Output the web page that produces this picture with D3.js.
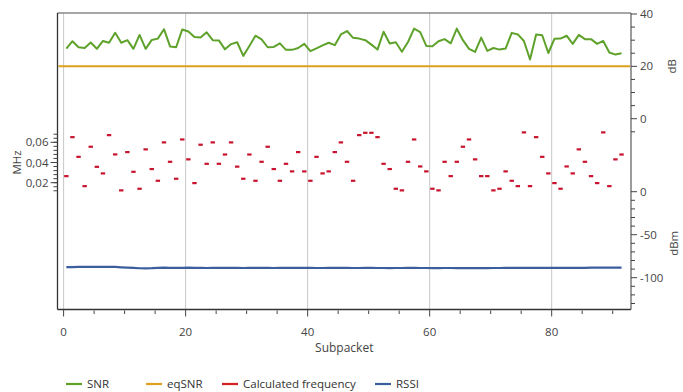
<!DOCTYPE html>
<html><head><meta charset="utf-8">
<script src="https://cdn.jsdelivr.net/npm/d3@7"></script>
<style>
html,body{margin:0;padding:0;background:#fff;}
svg{display:block;font-family:"Open Sans","Noto Sans",sans-serif;}
</style></head>
<body><svg id="c" width="683" height="392"></svg>
<script>
// ---- data ----
const snr = [26.8,29.6,27.3,27.0,29.1,26.7,29.7,29.0,32.8,29.0,30.0,26.7,32.0,26.7,30.1,30.6,34.2,27.6,27.3,34.1,
33.3,31.2,31.0,33.0,30.0,29.9,26.5,28.5,29.2,24.0,27.8,31.7,30.3,27.3,27.4,28.8,26.3,26.3,27.0,28.6,
25.8,26.9,28.0,29.0,28.1,32.2,33.5,30.9,30.6,30.0,28.3,26.4,33.2,28.7,29.2,25.6,29.3,34.4,33.1,27.8,
27.7,29.6,30.4,28.8,34.4,30.0,26.7,25.5,31.0,25.9,27.0,26.4,26.8,32.8,32.2,29.7,22.6,32.2,31.9,25.1,
30.5,30.6,31.7,28.6,32.0,30.4,30.4,28.6,29.7,25.3,24.5,25.0];
const eqSnr = 20;
const freq = [0.0266,0.0652,0.0457,0.0167,0.0557,0.0358,0.0293,0.0672,0.0481,0.0125,0.0504,0.0309,0.0141,0.0531,0.0336,0.0220,0.0600,0.0408,0.0240,0.0629,
0.0432,0.0197,0.0577,0.0388,0.0600,0.0388,0.0480,0.0600,0.0360,0.0240,0.0480,0.0220,0.0408,0.0557,0.0336,0.0220,0.0388,0.0313,0.0504,0.0313,
0.0220,0.0457,0.0293,0.0313,0.0504,0.0600,0.0408,0.0220,0.0672,0.0695,0.0695,0.0652,0.0388,0.0336,0.0141,0.0125,0.0408,0.0629,0.0362,0.0313,
0.0141,0.0125,0.0408,0.0266,0.0408,0.0557,0.0629,0.0432,0.0266,0.0266,0.0125,0.0141,0.0313,0.0220,0.0167,0.0699,0.0167,0.0652,0.0457,0.0293,
0.0197,0.0141,0.0362,0.0293,0.0531,0.0408,0.0266,0.0197,0.0699,0.0167,0.0432,0.0480];
const rssi = [-87.6,-87.6,-87.5,-87.5,-87.4,-87.4,-87.4,-87.3,-87.5,-87.9,-88.3,-88.6,-89.0,-89.1,-88.9,-88.5,-88.4,-88.5,-88.6,-88.5,
-88.4,-88.5,-88.6,-88.7,-88.6,-88.5,-88.5,-88.6,-88.6,-88.7,-88.6,-88.5,-88.5,-88.6,-88.7,-88.6,-88.6,-88.5,-88.5,-88.6,
-88.6,-88.7,-88.7,-88.6,-88.6,-88.5,-88.6,-88.7,-88.7,-88.6,-88.6,-88.7,-88.7,-88.8,-88.7,-88.7,-88.6,-88.6,-88.7,-88.7,
-88.8,-88.8,-88.7,-88.7,-88.8,-88.8,-88.8,-88.9,-88.8,-88.8,-88.7,-88.7,-88.6,-88.6,-88.6,-88.5,-88.5,-88.5,-88.5,-88.6,
-88.6,-88.6,-88.5,-88.5,-88.5,-88.5,-88.4,-88.4,-88.4,-88.4,-88.4,-88.4];
const xTicks = [0,20,40,60,80];
const dbTicks = [0,20,40];
const dbmTicks = [0,-50,-100];
const mhzTicks = [0.02,0.04,0.06];
const mhzLabels = ["0,02","0,04","0,06"];
const series = [
  {name:"SNR", color:"#5ea22c"},
  {name:"eqSNR", color:"#dba11f"},
  {name:"Calculated frequency", color:"#d42020"},
  {name:"RSSI", color:"#3b5e9e"}
];

// ---- layout ----
const L = 57.5, R = 631, T = 13, B = 309.5;
const svg = d3.select("#c");
const idx = snr.map((d,i)=>i + 0.45);

const x = d3.scaleLinear().domain([-1, 93]).range([L, R]);
const yDb = d3.scaleLinear().domain([0, 40]).range([118.7, 14]);
const yMhz = d3.scaleLinear().domain([0.02, 0.06]).range([182.7, 142.3]);
const yDbm = d3.scaleLinear().domain([-100, 0]).range([277.7, 191.7]);

// gridlines
svg.append("g").selectAll("line").data(xTicks).join("line")
  .attr("x1", d=>x(d)).attr("x2", d=>x(d)).attr("y1", T).attr("y2", B)
  .attr("stroke", "#c8c8c8").attr("stroke-width", 1);

// frame
svg.append("line").attr("x1", L).attr("x2", R).attr("y1", T).attr("y2", T)
  .attr("stroke", "#888").attr("stroke-width", 1.5);

// eqSNR
svg.append("line").attr("x1", L+1).attr("x2", R-1).attr("y1", yDb(eqSnr)).attr("y2", yDb(eqSnr))
  .attr("stroke", series[1].color).attr("stroke-width", 2);

// SNR
svg.append("path").datum(snr)
  .attr("d", d3.line().x((d,i)=>x(idx[i])).y(d=>yDb(d)))
  .attr("fill","none").attr("stroke", series[0].color).attr("stroke-width", 2).attr("stroke-linejoin","round");

// RSSI
svg.append("path").datum(rssi)
  .attr("d", d3.line().x((d,i)=>x(idx[i])).y(d=>yDbm(d)))
  .attr("fill","none").attr("stroke", series[3].color).attr("stroke-width", 2.2);

// freq marks
svg.append("g").selectAll("rect").data(freq).join("rect")
  .attr("x", (d,i)=>x(idx[i]) - 2.2).attr("y", d=>yMhz(d) - 1)
  .attr("width", 4.4).attr("height", 2.2).attr("fill", "#c8142e");

// x axis
const xAxis = svg.append("g").attr("transform", `translate(0,${B})`);
xAxis.append("line").attr("x1", L).attr("x2", R).attr("stroke", "#333").attr("stroke-width", 1.3);
xAxis.selectAll("line.minor").data(d3.range(5, 95, 5).filter(v=>v%20!==0)).join("line").attr("class","minor")
  .attr("x1", d=>x(d)).attr("x2", d=>x(d)).attr("y1", 1).attr("y2", 4.5).attr("stroke","#444");
xAxis.selectAll("line.major").data(xTicks).join("line").attr("class","major")
  .attr("x1", d=>x(d)).attr("x2", d=>x(d)).attr("y1", 0).attr("y2", 7).attr("stroke","#444");
xAxis.selectAll("text").data(xTicks).join("text")
  .attr("x", d=>x(d)).attr("y", 26).attr("text-anchor","middle")
  .attr("font-size", 11.5).attr("fill","#444").text(d=>d);
svg.append("text").attr("x", (L+R)/2).attr("y", 352).attr("text-anchor","middle")
  .attr("font-size", 12).attr("fill","#444").text("Subpacket");

// left axis
svg.append("line").attr("x1", L).attr("x2", L).attr("y1", T).attr("y2", B).attr("stroke","#333").attr("stroke-width",1.3);
const mhzMinor = d3.range(0, 16).map(k => 0.012 + k*0.004).filter(v => v <= 0.0685);
svg.append("g").selectAll("line").data(mhzMinor).join("line")
  .attr("x1", L-4).attr("x2", L).attr("y1", d=>yMhz(d)).attr("y2", d=>yMhz(d)).attr("stroke","#444");
svg.append("g").selectAll("line").data(mhzTicks).join("line")
  .attr("x1", L-7).attr("x2", L).attr("y1", d=>yMhz(d)).attr("y2", d=>yMhz(d)).attr("stroke","#444");
svg.append("g").selectAll("text").data(mhzTicks).join("text")
  .attr("x", L-9).attr("y", d=>yMhz(d)+4).attr("text-anchor","end")
  .attr("font-size", 11.5).attr("fill","#444").text((d,i)=>mhzLabels[i]);
svg.append("text").attr("transform", `translate(21,${yMhz(0.04)}) rotate(-90)`)
  .attr("text-anchor","middle").attr("font-size", 11.5).attr("fill","#444").text("MHz");

// right axis
svg.append("line").attr("x1", R).attr("x2", R).attr("y1", T).attr("y2", B).attr("stroke","#666").attr("stroke-width",1.3);
svg.append("g").selectAll("line").data(d3.range(-5, 41, 5)).join("line")
  .attr("x1", R).attr("x2", d => dbTicks.includes(d) ? R+6 : R+4)
  .attr("y1", d=>yDb(d)).attr("y2", d=>yDb(d)).attr("stroke","#444");
svg.append("g").selectAll("text").data(dbTicks).join("text")
  .attr("x", R+9).attr("y", d=>yDb(d)+4).attr("font-size", 11.5).attr("fill","#444").text(d=>d);
svg.append("text").attr("transform", `translate(676,${yDb(20)}) rotate(-90)`)
  .attr("text-anchor","middle").attr("font-size", 11.5).attr("fill","#444").text("dB");
svg.append("g").selectAll("line").data(d3.range(-130, 1, 10)).join("line")
  .attr("x1", R).attr("x2", d => dbmTicks.includes(d) ? R+6 : R+4)
  .attr("y1", d=>yDbm(d)).attr("y2", d=>yDbm(d)).attr("stroke","#444");
svg.append("g").selectAll("text").data(dbmTicks).join("text")
  .attr("x", R+9).attr("y", d=>yDbm(d)+4).attr("font-size", 11.5).attr("fill","#444").text(d=>d);
svg.append("text").attr("transform", `translate(678,${yDbm(-60)}) rotate(-90)`)
  .attr("text-anchor","middle").attr("font-size", 11.5).attr("fill","#444").text("dBm");

// legend
const legX = [66, 146, 222, 375];
const lg = svg.append("g").selectAll("g").data(series).join("g")
  .attr("transform", (d,i)=>`translate(${legX[i]},384)`);
lg.append("line").attr("x1",0).attr("x2",16).attr("y1",0).attr("y2",0)
  .attr("stroke", d=>d.color).attr("stroke-width", 2.2);
lg.append("text").attr("x", 21).attr("y", 4).attr("font-size", 11.5).attr("fill","#333").text(d=>d.name);
</script></body></html>
